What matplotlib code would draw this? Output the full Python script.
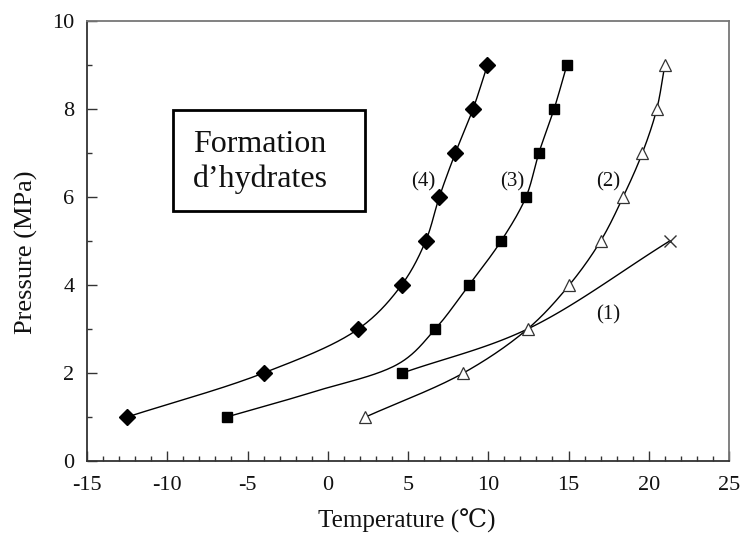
import numpy as np
import matplotlib
matplotlib.use("Agg")
import matplotlib.pyplot as plt
from matplotlib.ticker import MultipleLocator
from matplotlib.patches import Rectangle

plt.rcParams['font.family'] = ['Liberation Serif', 'DejaVu Serif']
plt.rcParams['axes.unicode_minus'] = False

# curve (4) - diamonds
t4 = [-12.5, -4.0, 1.9, 4.6, 6.1, 6.95, 7.95, 9.05, 9.95]
p4 = [1, 2, 3, 4, 5, 6, 7, 8, 9]

# curve (3) - squares (markers), and the drawn line which passes just above the 2 MPa square
t3 = [-6.3, 6.7, 8.8, 10.8, 12.35, 13.15, 14.1, 14.9]
p3 = [1, 3, 4, 5, 6, 7, 8, 9]
t3_line = [-6.3, -0.9, 4.5, 6.7, 8.8, 10.8, 12.35, 13.15, 14.1, 14.9]
p3_line = [1, 1.57, 2.23, 3, 4, 5, 6, 7, 8, 9]

# curve (2) - open triangles
t2 = [2.35, 8.45, 12.45, 15.05, 17.0, 18.4, 19.6, 20.5, 21.0]
p2 = [1, 2, 3, 4, 5, 6, 7, 8, 9]

# curve (1) - starts on a square, ends with a cross
t1 = [4.65, 12.45, 21.3]
p1 = [2, 3, 5]

curve_labels = ['(4)', '(3)', '(2)', '(1)']
label_t = [5.95, 11.5, 17.45, 17.45]
label_p = [6.35, 6.35, 6.35, 3.33]

box_lines = ['Formation', 'd\u2019hydrates']


def smooth(xs, ys, n=40, sx=16.05, sy=44.0):
    # centripetal catmull-rom through the points, computed in screen-like units
    P = np.column_stack([np.asarray(xs, float) * sx, np.asarray(ys, float) * sy])
    P = np.vstack([2 * P[0] - P[1], P, 2 * P[-1] - P[-2]])
    out = []
    for i in range(1, len(P) - 2):
        q0, q1, q2, q3 = P[i - 1], P[i], P[i + 1], P[i + 2]
        a0 = 0.0
        a1 = a0 + np.linalg.norm(q1 - q0) ** 0.5
        a2 = a1 + np.linalg.norm(q2 - q1) ** 0.5
        a3 = a2 + np.linalg.norm(q3 - q2) ** 0.5
        t = np.linspace(a1, a2, n)[:, None]
        A1 = (a1 - t) / (a1 - a0) * q0 + (t - a0) / (a1 - a0) * q1
        A2 = (a2 - t) / (a2 - a1) * q1 + (t - a1) / (a2 - a1) * q2
        A3 = (a3 - t) / (a3 - a2) * q2 + (t - a2) / (a3 - a2) * q3
        B1 = (a2 - t) / (a2 - a0) * A1 + (t - a0) / (a2 - a0) * A2
        B2 = (a3 - t) / (a3 - a1) * A2 + (t - a1) / (a3 - a1) * A3
        C = (a2 - t) / (a2 - a1) * B1 + (t - a1) / (a2 - a1) * B2
        out.append(C)
    out = np.vstack(out)
    return out[:, 0] / sx, out[:, 1] / sy


fig = plt.figure(figsize=(7.42, 5.34), dpi=100)
ax = fig.add_axes([0.1173, 0.1367, 0.8652, 0.824])

lw = 1.0
# lines
for tx, py in [(t4, p4), (t3_line, p3_line), (t2, p2), (t1, p1)]:
    sxv, syv = smooth(tx, py)
    ax.plot(sxv, syv, color='black', linewidth=lw, zorder=2)

# markers
ax.plot(t4, p4, linestyle='none', marker='D', markersize=8.3, color='black', zorder=3)
ax.plot(t3, p3, linestyle='none', marker='s', markersize=6.5, color='black', zorder=3)
ax.plot(t1[:1], p1[:1], linestyle='none', marker='s', markersize=6.5, color='black', zorder=3)
ax.plot(t2, p2, linestyle='none', marker='^', markersize=8.5, markerfacecolor='white',
        markeredgecolor='#333333', markeredgewidth=0.9, zorder=3)
ax.plot(t1[-1:], p1[-1:], linestyle='none', marker='x', markersize=8, color='#333333',
        markeredgewidth=1.0, zorder=3)

for lab, lx, ly in zip(curve_labels, label_t, label_p):
    ax.text(lx, ly, lab, fontsize=15, ha='center', va='center', color='#111111')

# text box
ax.add_patch(Rectangle((0.134, 0.568), 0.299, 0.230, transform=ax.transAxes,
                       facecolor='white', edgecolor='black', linewidth=2.0, zorder=4))
ax.text(0.165, 0.702, box_lines[0], transform=ax.transAxes, fontsize=23,
        ha='left', va='baseline', color='#111111', zorder=5)
ax.text(0.165, 0.623, box_lines[1], transform=ax.transAxes, fontsize=23,
        ha='left', va='baseline', color='#111111', zorder=5)

ax.set_xlim(-15, 25)
ax.set_ylim(0, 10)
ax.xaxis.set_major_locator(MultipleLocator(5))
ax.xaxis.set_minor_locator(MultipleLocator(1))
ax.yaxis.set_major_locator(MultipleLocator(2))
ax.yaxis.set_minor_locator(MultipleLocator(1))
ax.tick_params(which='both', direction='in', color='#333333', width=1.0, labelsize=16,
               labelcolor='#111111')
ax.tick_params(which='major', length=7)
ax.tick_params(which='minor', length=3.5)
ax.tick_params(axis='x', which='major', pad=11)
ax.tick_params(axis='y', which='major', pad=9)

for side in ['left', 'bottom']:
    ax.spines[side].set_color('#333333')
    ax.spines[side].set_linewidth(1.3)
for side in ['top', 'right']:
    ax.spines[side].set_color('#777777')
    ax.spines[side].set_linewidth(1.3)

ax.set_xlabel('Temperature (\u2103)', fontsize=18, color='#111111')
ax.set_ylabel('Pressure (MPa)', fontsize=19, color='#111111')
ax.xaxis.set_label_coords(0.498, -0.108)
ax.yaxis.set_label_coords(-0.077, 0.475)

fig.savefig('out.png', dpi=100)
